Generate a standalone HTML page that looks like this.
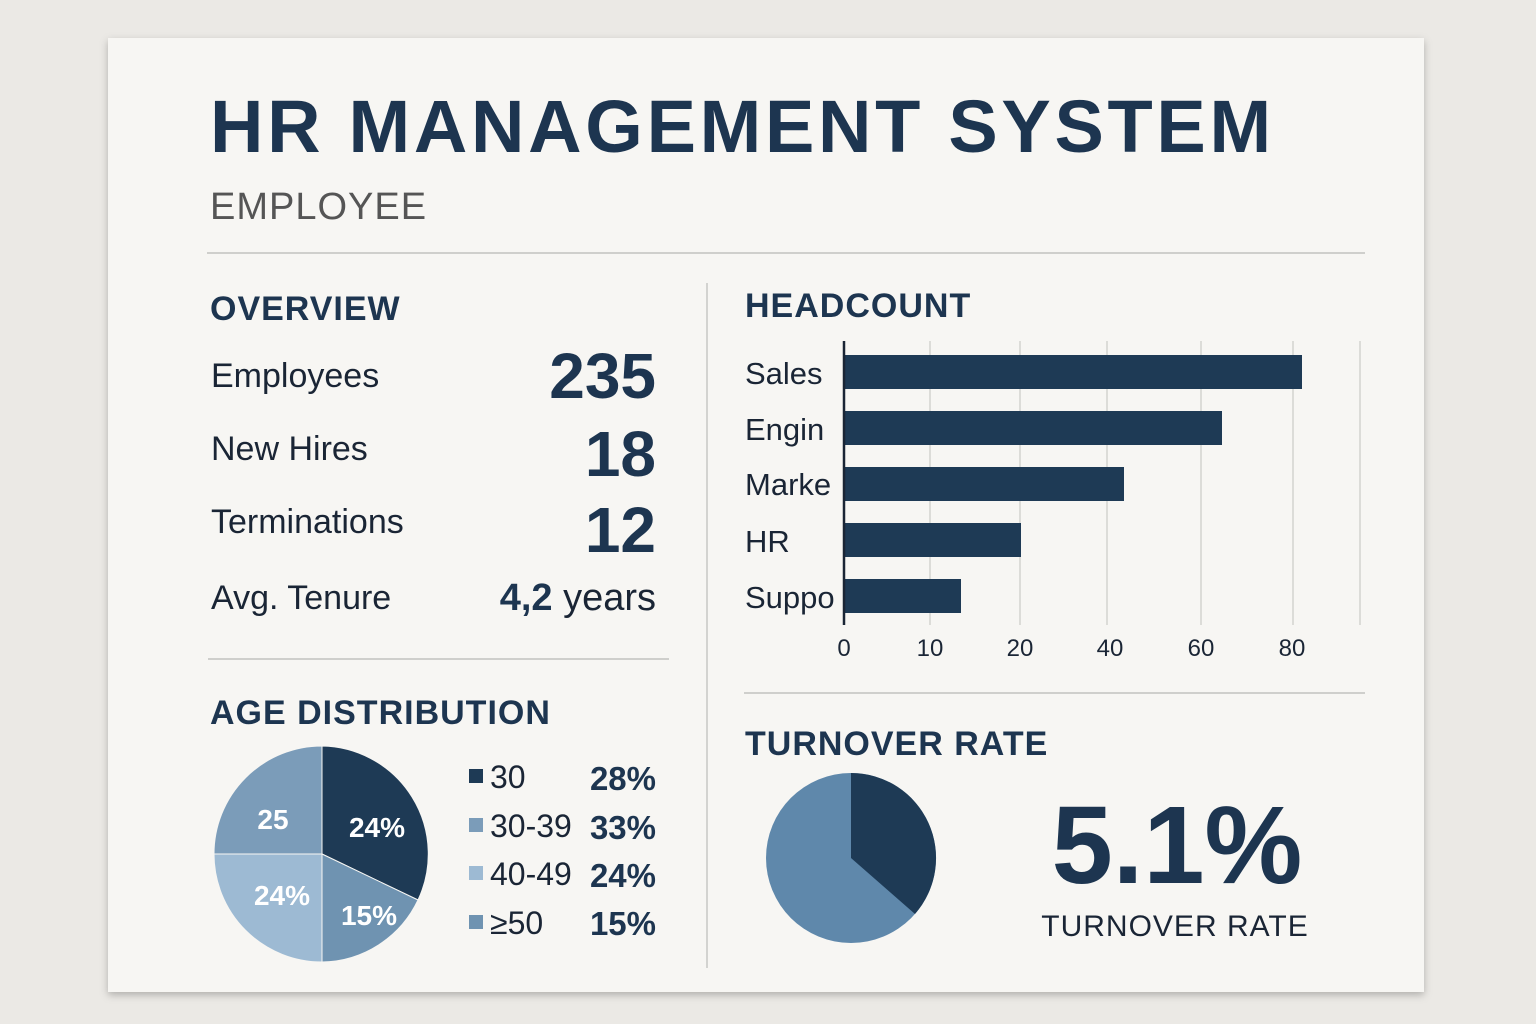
<!DOCTYPE html>
<html><head><meta charset="utf-8"><style>
html,body{margin:0;padding:0;width:1536px;height:1024px;background:#ebe9e5;overflow:hidden}
svg text{font-family:"Liberation Sans",sans-serif}
</style></head><body>
<svg width="1536" height="1024" viewBox="0 0 1536 1024" xmlns="http://www.w3.org/2000/svg">
<defs><filter id="sh" x="-5%" y="-5%" width="110%" height="110%"><feDropShadow dx="0" dy="3" stdDeviation="4" flood-color="#000" flood-opacity="0.25"/></filter></defs>
<rect x="108" y="38" width="1316" height="954" fill="#f7f6f3" filter="url(#sh)"/>
<text x="210" y="152" font-size="74" font-weight="700" fill="#1d3550" letter-spacing="3.7">HR MANAGEMENT SYSTEM</text>
<text x="210" y="219" font-size="38" fill="#555" letter-spacing="1">EMPLOYEE</text>
<line x1="207" y1="253" x2="1365" y2="253" stroke="#cfcfcc" stroke-width="2"/>
<line x1="707" y1="283" x2="707" y2="968" stroke="#d3d3d0" stroke-width="2"/>
<line x1="208" y1="659" x2="669" y2="659" stroke="#cfcfcc" stroke-width="2"/>
<line x1="744" y1="693" x2="1365" y2="693" stroke="#cfcfcc" stroke-width="2"/>

<g fill="#1a2535">
<text x="210" y="320" font-size="34" font-weight="700" fill="#1d3550" letter-spacing="1">OVERVIEW</text>
<text x="211" y="387" font-size="34">Employees</text>
<text x="211" y="460" font-size="34">New Hires</text>
<text x="211" y="533" font-size="34">Terminations</text>
<text x="211" y="609" font-size="34">Avg. Tenure</text>
<g font-weight="700" fill="#1d3550" text-anchor="end">
<text x="656" y="398" font-size="64">235</text>
<text x="656" y="476" font-size="64">18</text>
<text x="656" y="552" font-size="64">12</text>
<text x="656" y="610" font-size="38"><tspan font-weight="700">4,2</tspan><tspan font-weight="400" fill="#1a2535"> years</tspan></text>
</g>
</g>

<text x="745" y="317" font-size="34" font-weight="700" fill="#1d3550" letter-spacing="1">HEADCOUNT</text>
<g stroke="#dcdcd8" stroke-width="2">
<line x1="930" y1="341" x2="930" y2="625"/><line x1="1020" y1="341" x2="1020" y2="625"/><line x1="1107" y1="341" x2="1107" y2="625"/><line x1="1201" y1="341" x2="1201" y2="625"/><line x1="1293" y1="341" x2="1293" y2="625"/><line x1="1360" y1="341" x2="1360" y2="625"/>
</g>
<g fill="#1e3a55">
<rect x="844" y="355" width="458" height="34"/>
<rect x="844" y="411" width="378" height="34"/>
<rect x="844" y="467" width="280" height="34"/>
<rect x="844" y="523" width="177" height="34"/>
<rect x="844" y="579" width="117" height="34"/>
</g>
<line x1="844" y1="341" x2="844" y2="625" stroke="#1a2535" stroke-width="2.5"/>
<g font-size="31" fill="#1a2535">
<text x="745" y="384">Sales</text><text x="745" y="440">Engin</text><text x="745" y="495">Marke</text><text x="745" y="552">HR</text><text x="745" y="608">Suppo</text>
</g>
<g font-size="24" fill="#1a2535" text-anchor="middle">
<text x="844" y="656">0</text><text x="930" y="656">10</text><text x="1020" y="656">20</text><text x="1110" y="656">40</text><text x="1201" y="656">60</text><text x="1292" y="656">80</text>
</g>

<text x="210" y="724" font-size="34" font-weight="700" fill="#1d3550" letter-spacing="1">AGE DISTRIBUTION</text>
<g stroke="#f7f6f3" stroke-width="1">
<path d="M322,854 L322,746 A108,108 0 0 1 418,900 Z" fill="#1e3a55"/>
<path d="M322,854 L418,900 A108,108 0 0 1 322,962 Z" fill="#6f93b1"/>
<path d="M322,854 L322,962 A108,108 0 0 1 214,854 Z" fill="#9dbad3"/>
<path d="M322,854 L214,854 A108,108 0 0 1 322,746 Z" fill="#7b9cb9"/>
</g>
<g font-size="28" font-weight="700" fill="#fff" text-anchor="middle">
<text x="273" y="829">25</text><text x="377" y="837">24%</text><text x="282" y="905">24%</text><text x="369" y="925">15%</text>
</g>
<rect x="469" y="769" width="14" height="14" fill="#1e3a55"/>
<rect x="469" y="818" width="14" height="14" fill="#7b9cb9"/>
<rect x="469" y="866" width="14" height="14" fill="#9dbad3"/>
<rect x="469" y="915" width="14" height="14" fill="#6f93b1"/>
<g font-size="32" fill="#1a2535">
<text x="490" y="788">30</text><text x="490" y="837">30-39</text><text x="490" y="885">40-49</text><text x="490" y="934">≥50</text>
</g>
<g font-size="33" font-weight="700" fill="#1d3550" text-anchor="end">
<text x="656" y="790">28%</text><text x="656" y="839">33%</text><text x="656" y="887">24%</text><text x="656" y="935">15%</text>
</g>

<text x="745" y="755" font-size="34" font-weight="700" fill="#1d3550" letter-spacing="1">TURNOVER RATE</text>
<circle cx="851" cy="858" r="85" fill="#5f88ab"/>
<path d="M851,858 L851,773 A85,85 0 0 1 915,914 Z" fill="#1e3a55"/>
<text x="1177" y="883" font-size="110" font-weight="700" fill="#1d3550" text-anchor="middle">5.1%</text>
<text x="1175" y="936" font-size="30" fill="#1a2535" text-anchor="middle" letter-spacing="1">TURNOVER RATE</text>
</svg>
</body></html>
